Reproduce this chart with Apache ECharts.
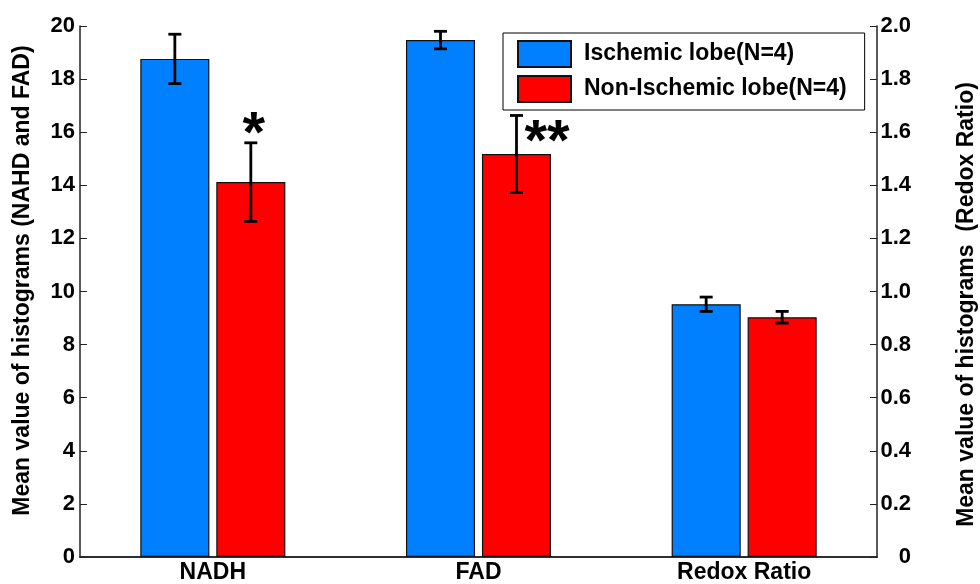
<!DOCTYPE html>
<html>
<head>
<meta charset="utf-8">
<script src="https://cdn.jsdelivr.net/npm/echarts@6/dist/echarts.min.js"></script>
<style>
  html, body { margin: 0; padding: 0; background: #fff; }
  #chart { width: 980px; height: 584px; }
</style>
</head>
<body>
<div id="chart"></div>
<script>
// Categories along the bottom axis
const categories = ['NADH', 'FAD', 'Redox Ratio'];

// NADH / FAD means (left axis) for each group
const ischemicMeans = [18.76, 19.47];
const nonIschemicMeans = [14.12, 15.18];
const ischemicErrors = [0.93, 0.33];
const nonIschemicErrors = [1.48, 1.45];

// Redox ratio means (right axis)
const ischemicRedox = 0.952;
const nonIschemicRedox = 0.903;
const ischemicRedoxError = 0.027;
const nonIschemicRedoxError = 0.022;

// Significance marks over the non-ischemic bars
const significance = ['*', '**'];

// Axis tick settings
const leftTicks = { min: 0, max: 20, interval: 2 };
const rightTicks = { min: 0, max: 2, interval: 0.2 };

const seriesNames = ['Ischemic lobe(N=4)', 'Non-Ischemic lobe(N=4)'];
const BLUE = '#0080ff';
const RED = '#ff0000';
const FONT = '"Liberation Sans", Arial, sans-serif';

// bar layout: two bars per category, 26% of the band each, gap 10% of a bar
const BAR_W = 0.26, BAR_GAP = 0.10;
const BAR_SHIFT = BAR_W * (1 + BAR_GAP) / 2;

// error bar rows: [category, mean, error, side(-1 left bar / +1 right bar)]
const leftErrRows = [];
ischemicMeans.forEach((m, i) => leftErrRows.push([i, m, ischemicErrors[i], -1]));
nonIschemicMeans.forEach((m, i) => leftErrRows.push([i, m, nonIschemicErrors[i], 1]));
const rightErrRows = [
  [2, ischemicRedox, ischemicRedoxError, -1],
  [2, nonIschemicRedox, nonIschemicRedoxError, 1]
];
// significance rows: [category, mean, error, markIndex]
const sigRows = nonIschemicMeans.map((m, i) => [i, m, nonIschemicErrors[i], i]);

function renderErrorBar(params, api) {
  const cat = api.value(0), mean = api.value(1), err = api.value(2), side = api.value(3);
  const band = api.size([1, 0])[0];
  const x = api.coord([cat, mean])[0] + side * band * BAR_SHIFT;
  const yTop = api.coord([cat, mean + err])[1];
  const yBot = api.coord([cat, mean - err])[1];
  const cap = 6.5;
  const st = { stroke: '#000', lineWidth: 2.8 };
  return {
    type: 'group',
    children: [
      { type: 'line', shape: { x1: x, y1: yTop, x2: x, y2: yBot }, style: st },
      { type: 'line', shape: { x1: x - cap, y1: yTop, x2: x + cap, y2: yTop }, style: st },
      { type: 'line', shape: { x1: x - cap, y1: yBot, x2: x + cap, y2: yBot }, style: st }
    ]
  };
}

// '*' sits above the error bar, '**' sits beside its top
function renderSignificance(params, api) {
  const cat = api.value(0), mean = api.value(1), err = api.value(2), k = api.value(3);
  const band = api.size([1, 0])[0];
  const x = api.coord([cat, mean])[0] + band * BAR_SHIFT;
  const yTop = api.coord([cat, mean + err])[1];
  const mark = significance[k];
  const beside = mark.length > 1;
  return {
    type: 'text',
    style: {
      text: mark,
      x: beside ? x + 8 : x + 3,
      y: beside ? yTop + 29 : yTop - 7,
      textAlign: beside ? 'left' : 'center',
      textVerticalAlign: 'middle',
      fill: '#000',
      font: 'bold 58px ' + FONT
    }
  };
}

const axisLineStyle = { color: '#222', width: 1.5 };
const tickLabel = { color: '#000', fontFamily: FONT, fontWeight: 'bold', fontSize: 22 };
const titleStyle = { color: '#000', fontFamily: FONT, fontWeight: 'bold', fontSize: 23 };

const option = {
  animation: false,
  backgroundColor: '#fff',
  grid: { left: 80, right: 103, top: 26, bottom: 27, containLabel: false, outerBoundsMode: 'none' },
  legend: {
    data: seriesNames,
    orient: 'vertical',
    left: 503,
    top: 33,
    padding: [7, 18, 7, 14],
    itemGap: 7,
    itemWidth: 53,
    itemHeight: 26,
    icon: 'rect',
    borderColor: '#000',
    borderWidth: 1,
    backgroundColor: '#fff',
    textStyle: { color: '#000', fontFamily: FONT, fontWeight: 'bold', fontSize: 23, padding: [0, 0, 0, 8] }
  },
  xAxis: [
    {
      type: 'category',
      data: categories,
      position: 'bottom',
      axisLine: { lineStyle: axisLineStyle },
      axisTick: { inside: true, alignWithLabel: true, length: 5, lineStyle: { color: '#222' } },
      axisLabel: Object.assign({}, tickLabel, { margin: 4, fontSize: 23 })
    },
    {
      type: 'category',
      data: categories,
      position: 'top',
      axisLine: { lineStyle: axisLineStyle },
      axisTick: { inside: true, alignWithLabel: true, length: 7, lineStyle: { color: '#222' } },
      axisLabel: { show: false }
    }
  ],
  yAxis: [
    {
      type: 'value',
      position: 'left',
      min: leftTicks.min, max: leftTicks.max, interval: leftTicks.interval,
      name: 'Mean value of histograms (NAHD and FAD)',
      nameLocation: 'middle',
      nameGap: 46,
      nameTextStyle: Object.assign({ padding: [0, 0, 0, 22] }, titleStyle),
      axisLine: { show: true, lineStyle: axisLineStyle },
      axisTick: { show: true, inside: true, length: 7, lineStyle: { color: '#222' } },
      axisLabel: Object.assign({ margin: 5 }, tickLabel),
      splitLine: { show: false }
    },
    {
      type: 'value',
      position: 'right',
      min: rightTicks.min, max: rightTicks.max, interval: rightTicks.interval,
      name: 'Mean value of histograms  (Redox Ratio)',
      nameLocation: 'middle',
      nameGap: 78,
      nameRotate: 90,
      nameTextStyle: Object.assign({ padding: [0, 26, 0, 0] }, titleStyle),
      axisLine: { show: true, lineStyle: axisLineStyle },
      axisTick: { show: true, inside: true, length: 7, lineStyle: { color: '#222' } },
      axisLabel: Object.assign({ margin: 34, align: 'right', formatter: v => (v === 0 ? '0' : v.toFixed(1)) }, tickLabel),
      splitLine: { show: false }
    }
  ],
  series: [
    {
      name: seriesNames[0], type: 'bar', stack: 'ischemic', yAxisIndex: 0,
      barWidth: (BAR_W * 100) + '%', barGap: (BAR_GAP * 100) + '%',
      itemStyle: { color: BLUE, borderColor: '#111', borderWidth: 1.2 },
      data: ischemicMeans.concat(['-'])
    },
    {
      name: seriesNames[1], type: 'bar', stack: 'nonischemic', yAxisIndex: 0,
      barWidth: (BAR_W * 100) + '%', barGap: (BAR_GAP * 100) + '%',
      itemStyle: { color: RED, borderColor: '#111', borderWidth: 1.2 },
      data: nonIschemicMeans.concat(['-'])
    },
    {
      name: seriesNames[0], type: 'bar', stack: 'ischemic', yAxisIndex: 1,
      barWidth: (BAR_W * 100) + '%', barGap: (BAR_GAP * 100) + '%',
      itemStyle: { color: BLUE, borderColor: '#111', borderWidth: 1.2 },
      data: ['-', '-', ischemicRedox]
    },
    {
      name: seriesNames[1], type: 'bar', stack: 'nonischemic', yAxisIndex: 1,
      barWidth: (BAR_W * 100) + '%', barGap: (BAR_GAP * 100) + '%',
      itemStyle: { color: RED, borderColor: '#111', borderWidth: 1.2 },
      data: ['-', '-', nonIschemicRedox]
    },
    {
      type: 'custom', yAxisIndex: 0, z: 10,
      renderItem: renderErrorBar,
      encode: { x: 0, y: 1 },
      data: leftErrRows
    },
    {
      type: 'custom', yAxisIndex: 1, z: 10,
      renderItem: renderErrorBar,
      encode: { x: 0, y: 1 },
      data: rightErrRows
    },
    {
      type: 'custom', yAxisIndex: 0, z: 11,
      renderItem: renderSignificance,
      encode: { x: 0, y: 1 },
      data: sigRows
    }
  ]
};

const chart = echarts.init(document.getElementById('chart'), null, { renderer: 'canvas' });
chart.setOption(option);
</script>
</body>
</html>
